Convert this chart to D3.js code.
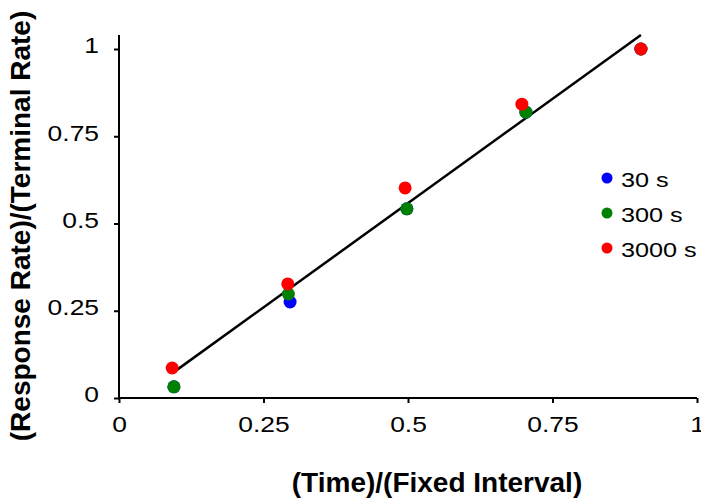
<!DOCTYPE html>
<html><head><meta charset="utf-8">
<script src="https://cdn.jsdelivr.net/npm/d3@7"></script>
<style>
body{margin:0;background:#fff;}
svg{display:block;font-family:"Liberation Sans",Arial,sans-serif;}
</style></head>
<body>
<svg id="chart" width="701" height="500"></svg>
<script>
const seriesNames = ["30 s", "300 s", "3000 s"];
const seriesColors = ["#0000ff", "#008000", "#ff0000"];
const x30 = [0.095, 0.296, 0.498, 0.704, 0.903];
const y30 = [0.032, 0.275, 0.542, 0.819, 1.0];
const x300 = [0.095, 0.293, 0.498, 0.704, 0.903];
const y300 = [0.032, 0.298, 0.542, 0.819, 1.0];
const x3000 = [0.092, 0.292, 0.495, 0.697, 0.903];
const y3000 = [0.086, 0.327, 0.602, 0.842, 1.0];
const fitX = [0.093, 0.903];
const fitY = [0.072, 1.04];
const xTicks = [0, 0.25, 0.5, 0.75, 1];
const xTickLabels = ["0", "0.25", "0.5", "0.75", "1"];
const yTicks = [0, 0.25, 0.5, 0.75, 1];
const yTickLabels = ["0", "0.25", "0.5", "0.75", "1"];
const xTitle = "(Time)/(Fixed Interval)";
const yTitle = "(Response Rate)/(Terminal Rate)";

const svg = d3.select("#chart");
const x = d3.scaleLinear().domain([0, 1]).range([119, 697]);
const y = d3.scaleLinear().domain([0, 1.04]).range([398, 398 - 349 * 1.04]);

function stretch(sel, f) {
  sel.each(function () {
    const w = this.getComputedTextLength();
    d3.select(this).attr("textLength", w * f).attr("lengthAdjust", "spacingAndGlyphs");
  });
}

const xAxis = svg.append("g").attr("transform", `translate(0,${y(0)})`)
  .call(d3.axisBottom(x).tickValues(xTicks).tickFormat((d, i) => xTickLabels[i]).tickSize(5).tickPadding(13));
const yAxis = svg.append("g").attr("transform", `translate(${x(0)},0)`)
  .call(d3.axisLeft(y).tickValues(yTicks).tickFormat((d, i) => yTickLabels[i]).tickSize(5).tickPadding(15));
[xAxis, yAxis].forEach(g => {
  g.select(".domain").attr("stroke", "#000").attr("stroke-width", 2);
  g.selectAll(".tick line").attr("stroke", "#000").attr("stroke-width", 2);
  g.selectAll(".tick text").attr("font-size", 22).attr("fill", "#000").attr("font-family", "Liberation Sans, Arial, sans-serif");
  stretch(g.selectAll(".tick text"), 1.2);
});
yAxis.selectAll(".tick text").attr("dy", "0.18em");
// remove the outer tick of domain paths
xAxis.select(".domain").attr("d", `M${x(0)},0H${x(1)}`);
yAxis.select(".domain").attr("d", `M0,${y(0)}V${y(1.04)}`);

svg.append("line")
  .attr("x1", x(fitX[0])).attr("y1", y(fitY[0]))
  .attr("x2", x(fitX[1])).attr("y2", y(fitY[1]))
  .attr("stroke", "#000").attr("stroke-width", 2.5);

const series = [[x30, y30], [x300, y300], [x3000, y3000]];
series.forEach((s, si) => {
  svg.append("g").selectAll("circle").data(s[0]).join("circle")
    .attr("cx", d => x(d)).attr("cy", (d, i) => y(s[1][i]))
    .attr("r", 6.5).attr("fill", seriesColors[si]);
});

const legend = svg.append("g");
seriesNames.forEach((n, i) => {
  const cy = 178 + i * 35;
  legend.append("circle").attr("cx", 607).attr("cy", cy).attr("r", 5.5).attr("fill", seriesColors[i]);
  const t = legend.append("text").attr("x", 621).attr("y", cy + 9).attr("font-size", 21).attr("fill", "#000").text(n);
  stretch(t, 1.2);
});

svg.append("text").attr("x", 437).attr("y", 492).attr("text-anchor", "middle")
  .attr("font-size", 28).attr("font-weight", "bold").attr("fill", "#000").text(xTitle);
svg.append("text").attr("transform", "translate(30,226) rotate(-90)").attr("text-anchor", "middle")
  .attr("font-size", 28).attr("font-weight", "bold").attr("fill", "#000").text(yTitle);
</script>
</body></html>
